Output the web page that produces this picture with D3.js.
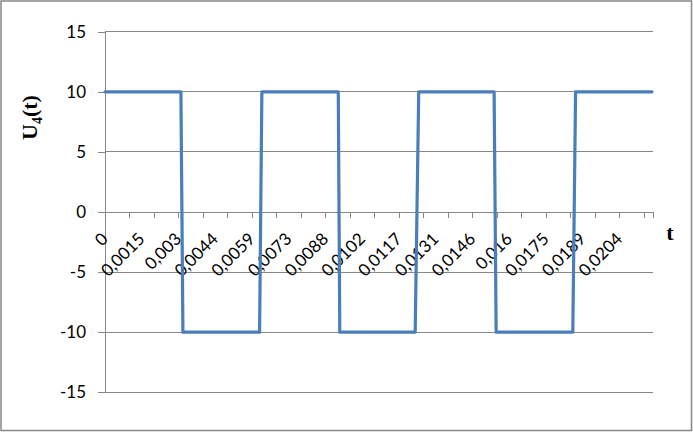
<!DOCTYPE html>
<html>
<head>
<meta charset="utf-8">
<script src="https://cdn.jsdelivr.net/npm/d3@7"></script>
<style>
  html, body { margin: 0; padding: 0; background: #fff; }
  svg { display: block; }
</style>
</head>
<body>
<svg id="chart" width="693" height="432"></svg>
<script>
// ---- data ----
const timePoints = [0, 0.00301, 0.00309, 0.00613, 0.00622, 0.00925, 0.00931, 0.01230, 0.01244, 0.01543, 0.01551, 0.01855, 0.01866, 0.02169];
const voltage    = [10, 10, -10, -10, 10, 10, -10, -10, 10, 10, -10, -10, 10, 10];
const xTickLabels = ["0","0,0015","0,003","0,0044","0,0059","0,0073","0,0088","0,0102","0,0117","0,0131","0,0146","0,016","0,0175","0,0189","0,0204"];
const labelStep = 0.001457;   // time between labelled categories
const tEnd = 0.02173;         // end of the category axis
const yTicks = [-15, -10, -5, 0, 5, 10, 15];

(function () {
const svg = d3.select("#chart");
const W = 693, H = 432;
const mLeft = 105, mRight = 653, mTop = 31.7, mBottom = 392.3;

// border
svg.append("rect").attr("x", 1).attr("y", 1).attr("width", W - 2.5).attr("height", H - 2.5)
  .attr("fill", "#fff").attr("stroke", "#888").attr("stroke-width", 1.5);

const x = d3.scaleLinear().domain([0, tEnd]).range([mLeft, mRight]);
const y = d3.scaleLinear().domain([-15, 15]).range([mBottom, mTop]);

const gray = "#878787";

// gridlines
svg.append("g").selectAll("line").data(yTicks).join("line")
  .attr("x1", mLeft).attr("x2", mRight)
  .attr("y1", d => y(d)).attr("y2", d => y(d))
  .attr("stroke", gray).attr("stroke-width", 1).attr("shape-rendering", "crispEdges");

// y axis
const yAxis = d3.axisLeft(y).tickValues(yTicks).tickSize(7).tickPadding(12).tickFormat(d => d < 0 ? "-" + Math.abs(d) : d);
const gy = svg.append("g").attr("transform", `translate(${mLeft},0)`).call(yAxis);
gy.select(".domain").attr("stroke", gray).attr("shape-rendering", "crispEdges");
gy.selectAll(".tick line").attr("stroke", gray).attr("shape-rendering", "crispEdges");
gy.selectAll(".tick text").attr("font-family", "Lato, 'Open Sans', sans-serif").attr("font-size", 17).attr("fill", "#000");

// x axis (category style at y=0)
const tickTimes = d3.range(0, 23).map(i => i * labelStep * 2 / 3).filter(t => t <= tEnd + 1e-9);
const xAxis = d3.axisBottom(x).tickValues(tickTimes).tickSize(6).tickFormat("");
const gx = svg.append("g").attr("transform", `translate(0,${y(0)})`).call(xAxis);
gx.select(".domain").attr("stroke", gray).attr("shape-rendering", "crispEdges");
gx.selectAll(".tick line").attr("stroke", gray).attr("shape-rendering", "crispEdges");

// rotated category labels
svg.append("g").selectAll("text").data(xTickLabels).join("text")
  .attr("transform", (d, i) => `translate(${x(i * labelStep) + 4},${y(0) + 28}) rotate(-45)`)
  .attr("text-anchor", "end")
  .attr("font-family", "Lato, 'Open Sans', sans-serif")
  .attr("font-size", 17)
  .attr("fill", "#000")
  .text(d => d);

// line
const line = d3.line().x((d, i) => x(timePoints[i])).y(d => y(d));
svg.append("path").datum(voltage)
  .attr("d", line)
  .attr("fill", "none")
  .attr("stroke", "#4A7EBB")
  .attr("stroke-width", 3.2)
  .attr("stroke-linejoin", "round")
  .attr("stroke-linecap", "round");

// axis titles
const yt = svg.append("text")
  .attr("transform", "translate(37,117.5) rotate(-90)")
  .attr("text-anchor", "middle")
  .attr("font-family", "'Liberation Serif', 'Times New Roman', serif")
  .attr("font-weight", "bold")
  .attr("font-size", 22)
  .attr("fill", "#000");
yt.append("tspan").text("U");
yt.append("tspan").attr("font-size", 14).attr("dy", 5).text("4");
yt.append("tspan").attr("dy", -5).text("(t)");

svg.append("text")
  .attr("x", 670).attr("y", 240)
  .attr("text-anchor", "middle")
  .attr("font-family", "'Liberation Serif', 'Times New Roman', serif")
  .attr("font-weight", "bold")
  .attr("font-size", 22)
  .attr("fill", "#000")
  .text("t");
})();
</script>
</body>
</html>
